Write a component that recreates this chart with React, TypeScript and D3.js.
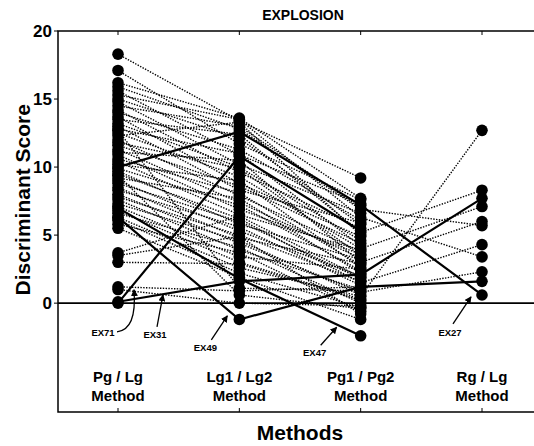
import * as d3 from 'd3'
import React, { useEffect, useRef } from 'react'

// Methods along the x axis
const methods = ['Pg / Lg', 'Lg1 / Lg2', 'Pg1 / Pg2', 'Rg / Lg']
const yTicks = [0, 5, 10, 15, 20]

// Dotted events: discriminant score for each method (null = not measured)
const pgLg = [18.3, 17.1, 16.2, 15.9, 15.6, 15.3, 15.0, 14.8, 14.5, 14.2, 14.0, 13.7, 13.5, 13.2, 13.0, 12.8, 12.5, 12.3, 12.0, 11.8, 11.6, 11.3, 11.1, 10.9, 10.6, 10.4, 10.2, 9.9, 9.7, 9.5, 9.2, 9.0, 8.8, 8.5, 8.3, 8.0, 7.8, 7.6, 7.3, 7.1, 6.8, 6.6, 6.3, 6.1, 5.8, 5.5, 3.7, 3.0, 3.5, 1.2, 1.0, 9.4, 12.7]
const lg1Lg2 = [13.4, 11.7, 13.6, 12.8, 10.9, 13.5, 12.1, 10.2, 13.0, 9.6, 11.3, 8.8, 12.4, 10.0, 8.3, 11.0, 9.3, 13.3, 7.9, 9.9, 8.6, 7.4, 10.5, 6.9, 8.1, 6.5, 9.0, 7.2, 5.8, 6.2, 7.7, 5.3, 6.0, 4.8, 5.6, 4.4, 5.0, 3.9, 4.6, 3.4, 3.0, 4.1, 2.6, 2.2, 3.7, 1.9, 6.4, 2.9, 4.9, 0.9, 0.0, 0.6, 1.1]
const pg1Pg2 = [9.2, 7.6, 7.7, 6.9, 7.3, 6.3, 5.8, 6.6, 7.0, 5.5, 6.1, 4.9, 5.2, 4.6, 5.9, 4.2, 4.0, 5.0, 3.8, 3.5, 4.4, 3.3, 3.0, 3.6, 2.8, 3.9, 2.6, 2.4, 3.2, 1.5, 2.2, 2.0, 1.8, 2.9, 1.3, 0.8, 1.6, 1.0, 0.6, 2.5, 0.3, 0.0, 0.5, -0.3, -0.6, -1.2, 1.9, 0.2, -0.8, 1.2, -0.2, -0.4, 0.9]
const rgLg = [null, null, null, 5.7, null, 3.4, null, null, null, null, null, null, 8.3, null, null, null, 7.1, null, null, null, null, null, 6.0, null, null, null, null, null, null, 4.3, null, null, null, null, null, 2.3, null, null, null, null, null, null, 12.7, null, null, null, null, null, null, null, null, null, null]

// Highlighted events (solid lines)
const exNames = ['EX71', 'EX31', 'EX49', 'EX47', 'EX27']
const exPgLg = [0.0, 0.1, 6.3, 7.0, 10.0]
const exLg1Lg2 = [10.8, 1.6, -1.2, 1.8, 12.6]
const exPg1Pg2 = [5.3, 2.1, 1.2, -2.4, 7.2]
const exRgLg = [null, 7.7, 1.6, null, 0.6]

const W = 534
const H = 446

const App = () => {
    const ref = useRef<HTMLDivElement>(null)

    useEffect(() => {
        document.body.style.margin = '0'
        const root = ref.current
        d3.select(root).select('svg').remove()

        const svg = d3.select(root)
            .append('svg')
            .attr('width', W)
            .attr('height', H)
            .style('display', 'block')
            .style('font-family', '"Liberation Sans", Arial, sans-serif')
            .style('font-weight', 'bold')

        const left = 58, right = 534, top = 31, bottom = 412

        const x = d3.scalePoint<string>().domain(methods).range([118, 482])
        const y = d3.scaleLinear().domain([-8, 20]).range([bottom, top])

        // frame
        svg.append('path')
            .attr('d', `M${right},${top}H${left}V${bottom}H${right}`)
            .attr('fill', 'none')
            .attr('stroke', '#000')
            .attr('stroke-width', 1.5)

        // zero line
        svg.append('line')
            .attr('x1', left).attr('x2', right)
            .attr('y1', y(0)).attr('y2', y(0))
            .attr('stroke', '#000')
            .attr('stroke-width', 1.8)

        // y ticks
        yTicks.forEach(t => {
            svg.append('line')
                .attr('x1', left - 4).attr('x2', left)
                .attr('y1', y(t)).attr('y2', y(t))
                .attr('stroke', '#000')
            svg.append('text')
                .attr('x', left - 6)
                .attr('y', y(t) + 6)
                .attr('text-anchor', 'end')
                .style('font-size', '17px')
                .text(t)
        })

        // x ticks + category labels
        methods.forEach(m => {
            svg.append('line')
                .attr('x1', x(m)).attr('x2', x(m))
                .attr('y1', top).attr('y2', top + 4)
                .attr('stroke', '#000')
            svg.append('line')
                .attr('x1', x(m)).attr('x2', x(m))
                .attr('y1', bottom).attr('y2', bottom - 4)
                .attr('stroke', '#000')
            svg.append('text')
                .attr('x', x(m)).attr('y', 382)
                .attr('text-anchor', 'middle')
                .style('font-size', '15px')
                .text(m)
            svg.append('text')
                .attr('x', x(m)).attr('y', 401)
                .attr('text-anchor', 'middle')
                .style('font-size', '15px')
                .text('Method')
        })

        // titles
        svg.append('text')
            .attr('x', 303).attr('y', 20)
            .attr('text-anchor', 'middle')
            .style('font-size', '14px')
            .text('EXPLOSION')
        svg.append('text')
            .attr('x', 300).attr('y', 440)
            .attr('text-anchor', 'middle')
            .style('font-size', '21px')
            .text('Methods')
        svg.append('text')
            .attr('transform', `translate(30,${y(7.6)}) rotate(-90)`)
            .attr('text-anchor', 'middle')
            .style('font-size', '21px')
            .text('Discriminant Score')

        const line = d3.line<[string, number | null]>()
            .defined(d => d[1] !== null)
            .x(d => x(d[0]) as number)
            .y(d => y(d[1] as number))

        const rows = pgLg.map((v, i) => [v, lg1Lg2[i], pg1Pg2[i], rgLg[i]])
        const exRows = exPgLg.map((v, i) => [v, exLg1Lg2[i], exPg1Pg2[i], exRgLg[i]])

        // dotted lines
        svg.append('g').selectAll('path')
            .data(rows)
            .enter()
            .append('path')
            .attr('d', r => line(methods.map((m, j) => [m, r[j]])))
            .attr('fill', 'none')
            .attr('stroke', '#000')
            .attr('stroke-width', 1.4)
            .attr('stroke-dasharray', '1.4,1.4')

        // solid lines
        svg.append('g').selectAll('path')
            .data(exRows)
            .enter()
            .append('path')
            .attr('d', r => line(methods.map((m, j) => [m, r[j]])))
            .attr('fill', 'none')
            .attr('stroke', '#000')
            .attr('stroke-width', 2.2)

        // dots
        const pts: [string, number][] = []
        rows.concat(exRows).forEach(r => methods.forEach((m, j) => {
            if (r[j] !== null) pts.push([m, r[j] as number])
        }))
        svg.append('g').selectAll('circle')
            .data(pts)
            .enter()
            .append('circle')
            .attr('cx', d => x(d[0]) as number)
            .attr('cy', d => y(d[1]))
            .attr('r', 5.8)
            .attr('fill', '#000')

        // arrowheads
        svg.append('defs').append('marker')
            .attr('id', 'ah')
            .attr('viewBox', '0 0 10 10')
            .attr('refX', 9).attr('refY', 5)
            .attr('markerWidth', 7).attr('markerHeight', 7)
            .attr('markerUnits', 'userSpaceOnUse')
            .attr('orient', 'auto')
            .append('path')
            .attr('d', 'M0,0L10,5L0,10Z')
            .attr('fill', '#000')

        // event labels: method, label offset, label value, arrow path from label
        const notes = [
            { m: methods[0], lx: -15, lv: -2.4, path: (bx: number, by: number) => `M${bx + 14},${by - 4} Q${bx + 34},${by - 6} ${bx + 31},${by - 46}` },
            { m: methods[0], lx: 37, lv: -2.55, path: (bx: number, by: number) => `M${bx + 2},${by - 11} L${bx + 8},${by - 43}` },
            { m: methods[1], lx: -34, lv: -3.5, path: (bx: number, by: number) => `M${bx + 6},${by - 11} L${bx + 22},${by - 35}` },
            { m: methods[2], lx: -46, lv: -3.9, path: (bx: number, by: number) => `M${bx + 6},${by - 11} L${bx + 22},${by - 29}` },
            { m: methods[3], lx: -32, lv: -2.4, path: (bx: number, by: number) => `M${bx + 3},${by - 12} L${bx + 21},${by - 39}` },
        ]
        notes.forEach((n, i) => {
            const bx = (x(n.m) as number) + n.lx
            const by = y(n.lv)
            svg.append('text')
                .attr('x', bx).attr('y', by)
                .attr('text-anchor', 'middle')
                .style('font-size', '9.5px')
                .text(exNames[i])
            svg.append('path')
                .attr('d', n.path(bx, by))
                .attr('fill', 'none')
                .attr('stroke', '#000')
                .attr('stroke-width', 1.3)
                .attr('marker-end', 'url(#ah)')
        })
    }, [])

    return <div ref={ref} />
}

export default App
